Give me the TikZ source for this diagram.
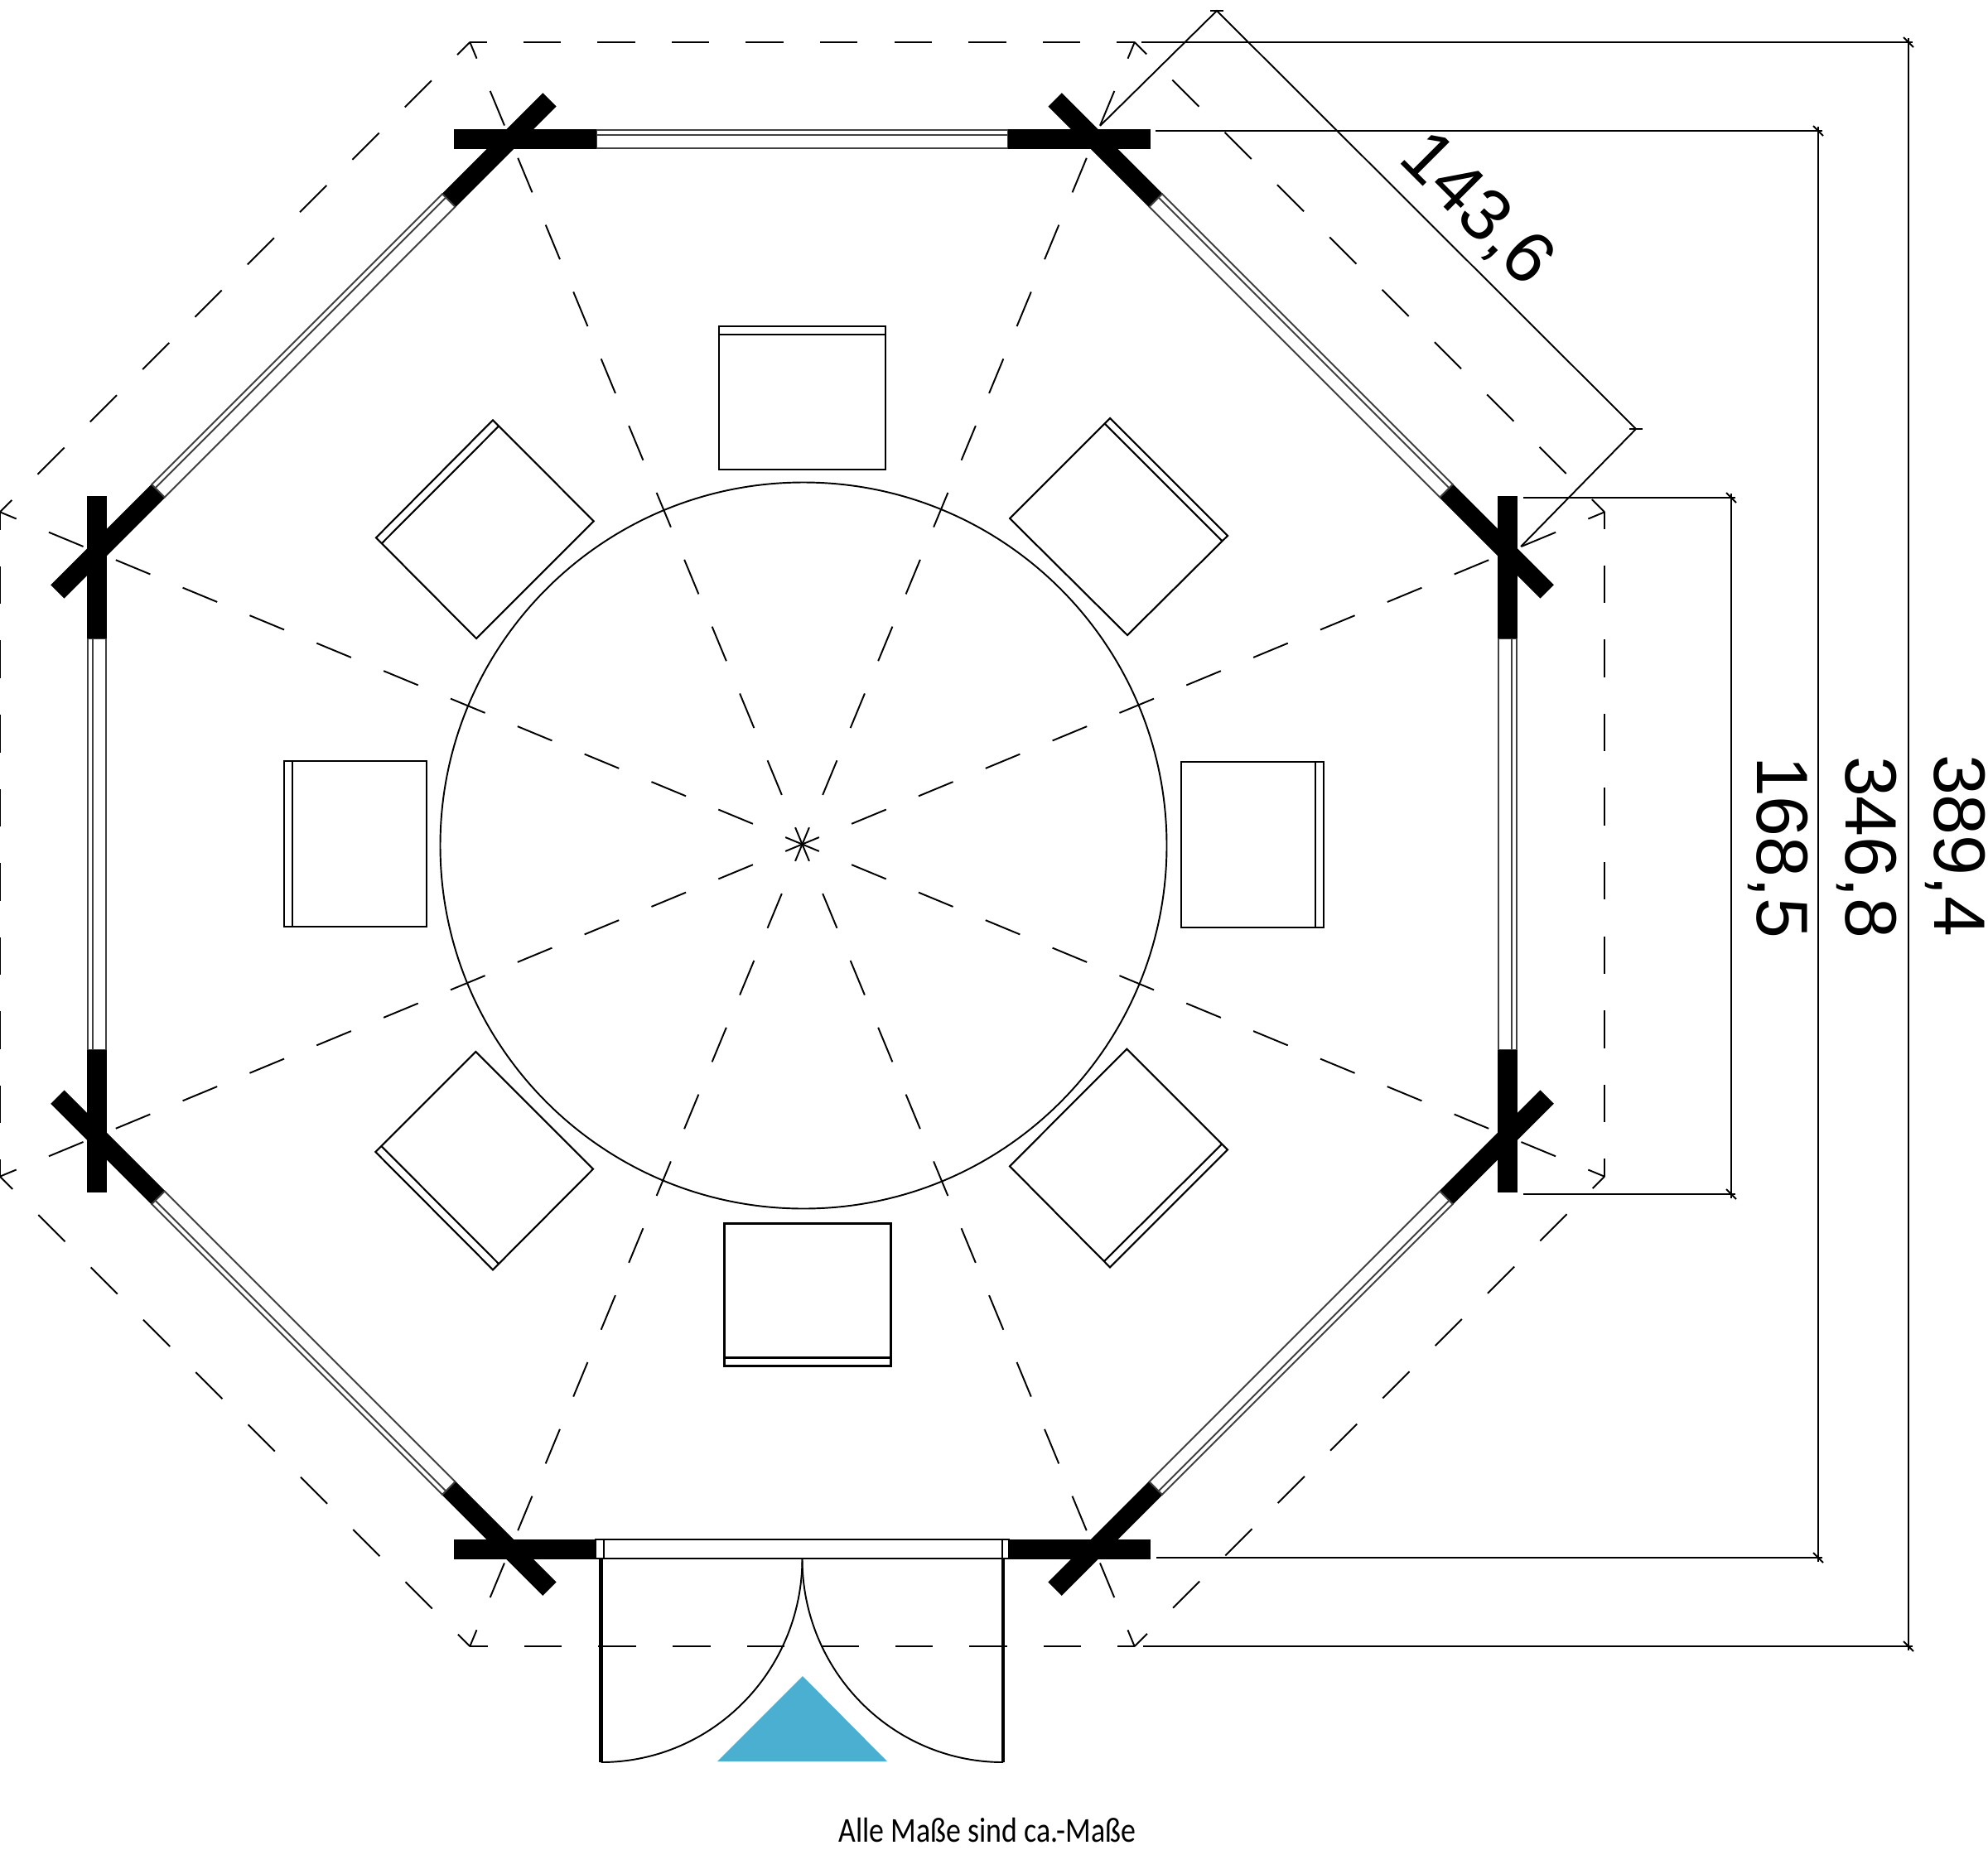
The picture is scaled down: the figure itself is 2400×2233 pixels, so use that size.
\documentclass[tikz,border=0pt]{standalone}
\usepackage{fontspec}
\usepackage{tikz}
\setmainfont{Liberation Sans}
\newfontfamily\notefont{Carlito}
\tikzstyle{hair}=[line width=0.55pt,black]
\tikzstyle{eaves}=[hair,dash pattern=on 0.455cm off 0.44cm,dash phase=0.251cm]
\tikzstyle{spoke}=[hair,dash pattern=on 0.45cm off 0.4245cm,dash phase=0.23cm]
\tikzstyle{log}=[fill=black,draw=black,line width=0.3pt]
\tikzstyle{pane}=[fill=white,draw=black!75,line width=0.55pt]
\tikzstyle{chair}=[line width=0.6pt,black,line join=miter]
\tikzstyle{dimlabel}=[inner sep=0pt,font=\fontsize{25pt}{25pt}\selectfont]
\definecolor{entry}{HTML}{4AAFD0}

\begin{document}
\begin{tikzpicture}[x=0.01cm,y=-0.01cm]
\useasboundingbox (0,0) rectangle (2400,2233);
\fill[white] (0,0) rectangle (2400,2233);
\coordinate (mid) at (968.5,1019.5);

% roof outline and ridges
\foreach \a in {0,45,...,315}{
  \begin{scope}[shift={(mid)},rotate=-\a]
    \draw[eaves] (-401.2,-968.5) -- (401.2,-968.5);
    \draw[spoke] (0,0) -- (401.2,-968.5);
  \end{scope}
}

% table
\draw[hair] (970,1021) circle [radius=438.5];

% chairs
\draw[chair] (868.3,394.3) rectangle (1069.3,566.7) (868.3,404.3) -- (1069.3,404.3);
\draw[chair] (874.5,1477.5) rectangle (1075.5,1649.5) (874.5,1639.5) -- (1075.5,1639.5);
\draw[chair] (343.3,918.7) rectangle (515.3,1119.3) (353.3,918.7) -- (353.3,1119.3);
\draw[chair] (1426,920) rectangle (1598.3,1120) (1588.3,920) -- (1588.3,1120);
\draw[chair] (595,507.3) -- (716.7,629.3) -- (575,771) -- (454,649.3) -- cycle (601.7,515) -- (461,656);
\draw[chair] (1340,505) -- (1482,647) -- (1361,767) -- (1219,626) -- cycle (1334,512) -- (1475,653);
\draw[chair] (574.3,1270) -- (716,1411.7) -- (595,1533.3) -- (453.3,1391) -- cycle (460.7,1384.3) -- (601.7,1525.7);
\draw[chair] (1360.3,1266.7) -- (1482,1388.3) -- (1340,1530.3) -- (1219,1408.3) -- cycle (1475,1381.7) -- (1333.3,1522.7);

% dimensions
\coordinate (a1) at (1378,51);
\coordinate (a2) at (2304,51);
\coordinate (a3) at (2304,1988);
\coordinate (a4) at (1380,1988);
\coordinate (b1) at (1395,158);
\coordinate (b2) at (2195,158);
\coordinate (b3) at (2195,1881);
\coordinate (b4) at (1396,1881);
\coordinate (c1) at (1839,601);
\coordinate (c2) at (2090,601);
\coordinate (c3) at (2090,1442);
\coordinate (c4) at (1839,1442);
\coordinate (d1) at (1328,152);
\coordinate (d2) at (1469,13);
\coordinate (d3) at (1975,518);
\coordinate (d4) at (1836,660);
\draw[hair] (a1) -- (a2) -- (a3) -- (a4);
\draw[hair] (b1) -- (b2) -- (b3) -- (b4);
\draw[hair] (c1) -- (c2) -- (c3) -- (c4);
\draw[hair] (d1) -- (d2) -- (d3) -- (d4);
\foreach \t in {a2,a3,b2,b3,c2,c3}{
  \draw[hair] ([shift={(-6,-6)}]\t) -- ([shift={(6,6)}]\t);
  \draw[hair] ([shift={(-5,0)}]\t) -- ([shift={(5,0)}]\t);
  \draw[hair] ([shift={(0,-5)}]\t) -- ([shift={(0,5)}]\t);
}
\foreach \t in {d2,d3}{
  \draw[hair] ([shift={(-8,0)}]\t) -- ([shift={(8,0)}]\t);
}
\node[dimlabel,rotate=-90] (wide) at (2361,1021) {389,4};
\node[dimlabel,rotate=-90] (inner) at (2254,1023) {346,8};
\node[dimlabel,rotate=-90] (side) at (2147,1023) {168,5};
\node[dimlabel,rotate=-45] (edge) at (1782,254) {143,6};

% walls
\foreach \a in {0,45,...,315}{
  \begin{scope}[shift={(mid)},rotate=-\a]
    \draw[log] (-419.5,-862.5) rectangle (-248,-840.5);
    \draw[log] (248,-862.5) rectangle (419.5,-840.5);
  \end{scope}
}
\foreach \a in {0,45,90,135,225,270,315}{
  \begin{scope}[shift={(mid)},rotate=-\a]
    \draw[pane] (-248,-862.5) rectangle (248,-840.5);
    \draw[pane] (-248,-856.5) -- (248,-856.5);
  \end{scope}
}

% door
\draw[pane,draw=black,line width=0.8pt] (719,1859) rectangle (1218,1882);
\draw[hair] (729,1859) -- (729,1882) (1210,1859) -- (1210,1882);
\coordinate (hinge) at (968.5,1882);
\draw[line width=1.2pt] (725.5,1882) -- (725.5,2128);
\draw[line width=1.2pt] (1211,1882) -- (1211,2128);
\draw[hair] (hinge) .. controls (968.5,2017.9) and (859.7,2128) .. (725.5,2128);
\draw[hair] (hinge) .. controls (968.5,2017.9) and (1077.1,2128) .. (1211,2128);
\fill[entry] (866,2127) -- (969,2024) -- (1071,2127) -- cycle;

\node[inner sep=0pt,anchor=base,xscale=0.85,font=\notefont\fontsize{12pt}{12pt}\selectfont] (note) at (1192,2224) {Alle Maße sind ca.-Maße};
\end{tikzpicture}
\end{document}
